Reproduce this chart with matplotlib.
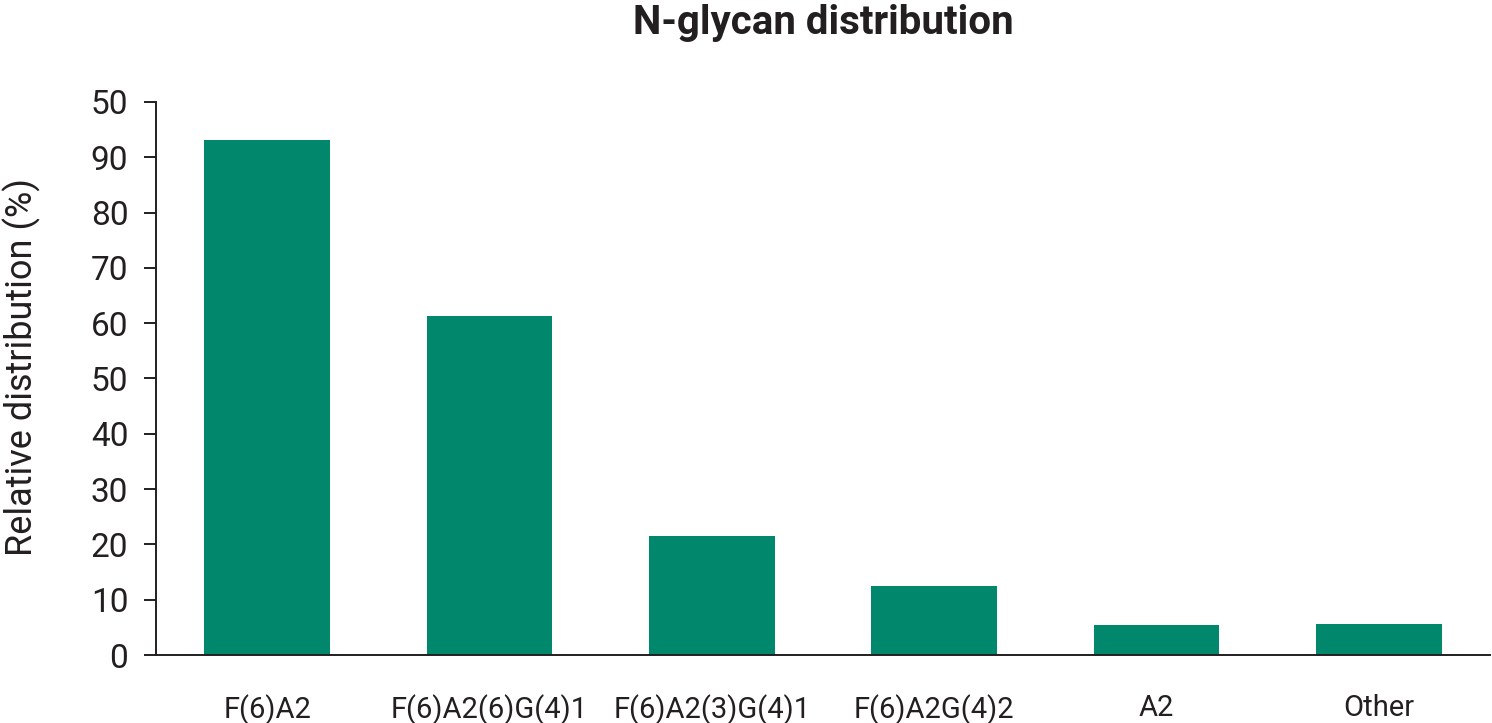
import matplotlib
matplotlib.use("Agg")
import matplotlib.pyplot as plt

# data
categories = ["F(6)A2", "F(6)A2(6)G(4)1", "F(6)A2(3)G(4)1", "F(6)A2G(4)2", "A2", "Other"]
values = [93.2, 61.3, 21.5, 12.4, 5.5, 5.7]
ytick_values = [0, 10, 20, 30, 40, 50, 60, 70, 80, 90, 100]
ytick_labels = ["0", "10", "20", "30", "40", "50", "60", "70", "80", "90", "50"]

plt.rcParams["font.family"] = ["Roboto", "DejaVu Sans"]
text_color = "#231f20"
bar_color = "#00876c"

fig = plt.figure(figsize=(14.92, 7.23), dpi=100)
ax = fig.add_axes([0.1046, 0.094, 0.894, 0.765])

x = range(len(categories))
ax.bar(x, values, width=0.565, color=bar_color, zorder=2)

ax.set_xlim(-0.5, len(categories) - 0.5)
ax.set_ylim(0, 100)
ax.set_yticks(ytick_values)
ax.set_yticklabels(ytick_labels)
ax.set_xticks(list(x))
ax.set_xticklabels(categories)

for side in ["top", "right"]:
    ax.spines[side].set_visible(False)
for side in ["left", "bottom"]:
    ax.spines[side].set_linewidth(1.4)
    ax.spines[side].set_color(text_color)

ax.tick_params(axis="y", length=9, width=1.4, color=text_color, pad=11,
               labelsize=24, labelcolor=text_color)
ax.tick_params(axis="x", length=0, pad=28, labelsize=21, labelcolor=text_color)

ax.set_ylabel("Relative distribution (%)", fontsize=26, color=text_color)
ax.yaxis.set_label_coords(-0.086, 0.52)
ax.set_title("N-glycan distribution", fontsize=29, fontweight="bold",
             color=text_color, pad=49)

fig.savefig("out.png", dpi=100, facecolor="white")
